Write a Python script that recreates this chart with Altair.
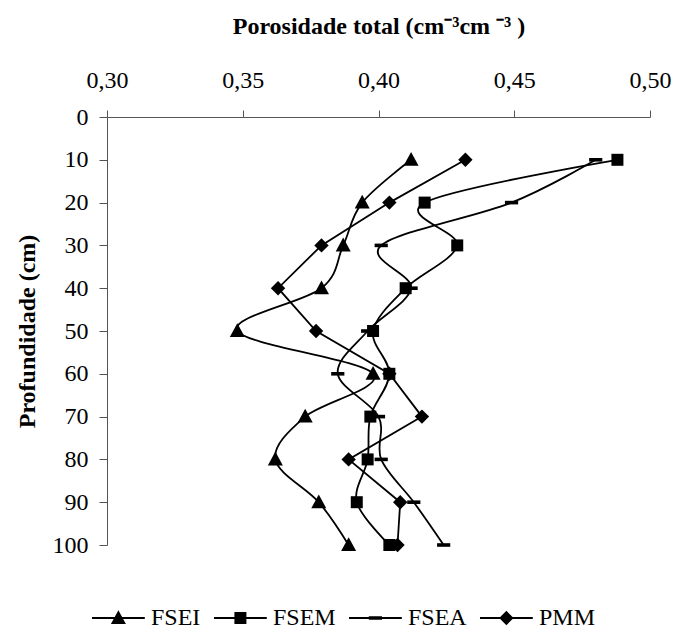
import altair as alt
import pandas as pd

depth = [10, 20, 30, 40, 50, 60, 70, 80, 90, 100]
series_names = ["FSEI", "FSEM", "FSEA", "PMM"]
fsei = [0.412, 0.394, 0.387, 0.379, 0.348, 0.398, 0.373, 0.362, 0.378, 0.389]
fsem = [0.488, 0.417, 0.429, 0.410, 0.398, 0.404, 0.397, 0.396, 0.392, 0.404]
fsea = [0.480, 0.449, 0.401, 0.412, 0.396, 0.385, 0.400, 0.401, 0.413, 0.424]
pmm = [0.432, 0.404, 0.379, 0.363, 0.377, 0.404, 0.416, 0.389, 0.408, 0.407]
x_ticks = [0.30, 0.35, 0.40, 0.45, 0.50]
y_ticks = [0, 10, 20, 30, 40, 50, 60, 70, 80, 90, 100]

rows = []
for name, vals in zip(series_names, [fsei, fsem, fsea, pmm]):
    for d, v in zip(depth, vals):
        rows.append({"serie": name, "prof": d, "por": v})
df = pd.DataFrame(rows)

FONT = "Liberation Serif"

# marker symbols (plot)
marker_paths = [
    "M-1.25,1.0L0,-1.3L1.25,1.0Z",
    "M-1,-1H1V1H-1Z",
    "M-1.1,-0.3H1.1V0.3H-1.1Z",
    "M0,-1.2L1.2,0L0,1.2L-1.2,0Z",
]
# legend symbols: short line with the marker in its middle
legend_line = "M-1,-0.17H7.8V0.17H-1Z "
legend_paths = [
    legend_line + "M2.15,1.0L3.4,-1.3L4.65,1.0Z",
    legend_line + "M2.4,-1H4.4V1H2.4Z",
    legend_line + "M2.3,-0.3H4.5V0.3H2.3Z",
    legend_line + "M3.4,-1.2L4.6,0L3.4,1.2L2.2,0Z",
]

x_enc = alt.X(
    "por:Q",
    scale=alt.Scale(domain=[0.30, 0.50], zero=False, nice=False),
    axis=alt.Axis(
        orient="top",
        values=x_ticks,
        labelExpr="replace(format(datum.value, '.2f'), '.', ',')",
        title="Porosidade total (cm⁻³cm ⁻³ )",
        titleFont=FONT,
        titleFontSize=24,
        titleFontWeight="bold",
        titleColor="black",
        titleBaseline="alphabetic",
        titleY=-84,
        labelFont=FONT,
        labelFontSize=24,
        labelColor="black",
        labelPadding=18,
        labelFlush=False,
        labelOverlap=False,
        tickSize=7,
        tickColor="#555",
        domainColor="#555",
        grid=False,
    ),
)
y_enc = alt.Y(
    "prof:Q",
    scale=alt.Scale(domain=[0, 100], reverse=True, nice=False),
    axis=alt.Axis(
        values=y_ticks,
        format="d",
        title="Profundidade (cm)",
        titleFont=FONT,
        titleFontSize=24,
        titleFontWeight="bold",
        titleColor="black",
        titleAngle=270,
        titleBaseline="middle",
        titleAlign="center",
        titleX=-80,
        titleY=214,
        labelFont=FONT,
        labelFontSize=24,
        labelColor="black",
        labelPadding=11,
        labelFlush=False,
        labelOverlap=False,
        tickSize=8,
        tickColor="#555",
        domainColor="#555",
        grid=False,
    ),
)

base = alt.Chart(df)

smooth = base.transform_filter(alt.datum.serie != "PMM").mark_line(
    interpolate="cardinal", tension=0, color="black", strokeWidth=1.8
).encode(x=x_enc, y=y_enc, detail="serie:N", order="prof:Q")

straight = base.transform_filter(alt.datum.serie == "PMM").mark_line(
    color="black", strokeWidth=1.8
).encode(x=x_enc, y=y_enc, detail="serie:N", order="prof:Q")

points = base.mark_point(filled=True, color="black", opacity=1, size=144).encode(
    x=x_enc,
    y=y_enc,
    shape=alt.Shape(
        "serie:N",
        scale=alt.Scale(domain=series_names, range=marker_paths),
        legend=None,
    ),
)

legend_layer = base.mark_point(filled=True, color="black", opacity=0, size=144).encode(
    x=x_enc,
    y=y_enc,
    shape=alt.Shape(
        "serie:N",
        scale=alt.Scale(domain=series_names, range=legend_paths),
        legend=alt.Legend(
            title=None,
            orient="none",
            direction="horizontal",
            columns=4,
            gridAlign="none",
            legendX=-21,
            legendY=489,
            padding=0,
            symbolSize=144,
            symbolOpacity=1,
            symbolFillColor="black",
            symbolStrokeColor="black",
            symbolStrokeWidth=0,
            labelFont=FONT,
            labelFontSize=24,
            labelColor="black",
            labelOffset=41,
            columnPadding=7,
        ),
    ),
)

chart = (
    alt.layer(smooth, straight, points, legend_layer)
    .resolve_scale(shape="independent")
    .properties(
        width=543,
        height=428,
        autosize=alt.AutoSizeParams(type="none"),
        padding={"left": 107, "top": 117, "right": 24, "bottom": 87},
        background="white",
    )
    .configure_view(stroke=None)
)

chart.save("out.html", embed_options={"renderer": "svg", "actions": False})
